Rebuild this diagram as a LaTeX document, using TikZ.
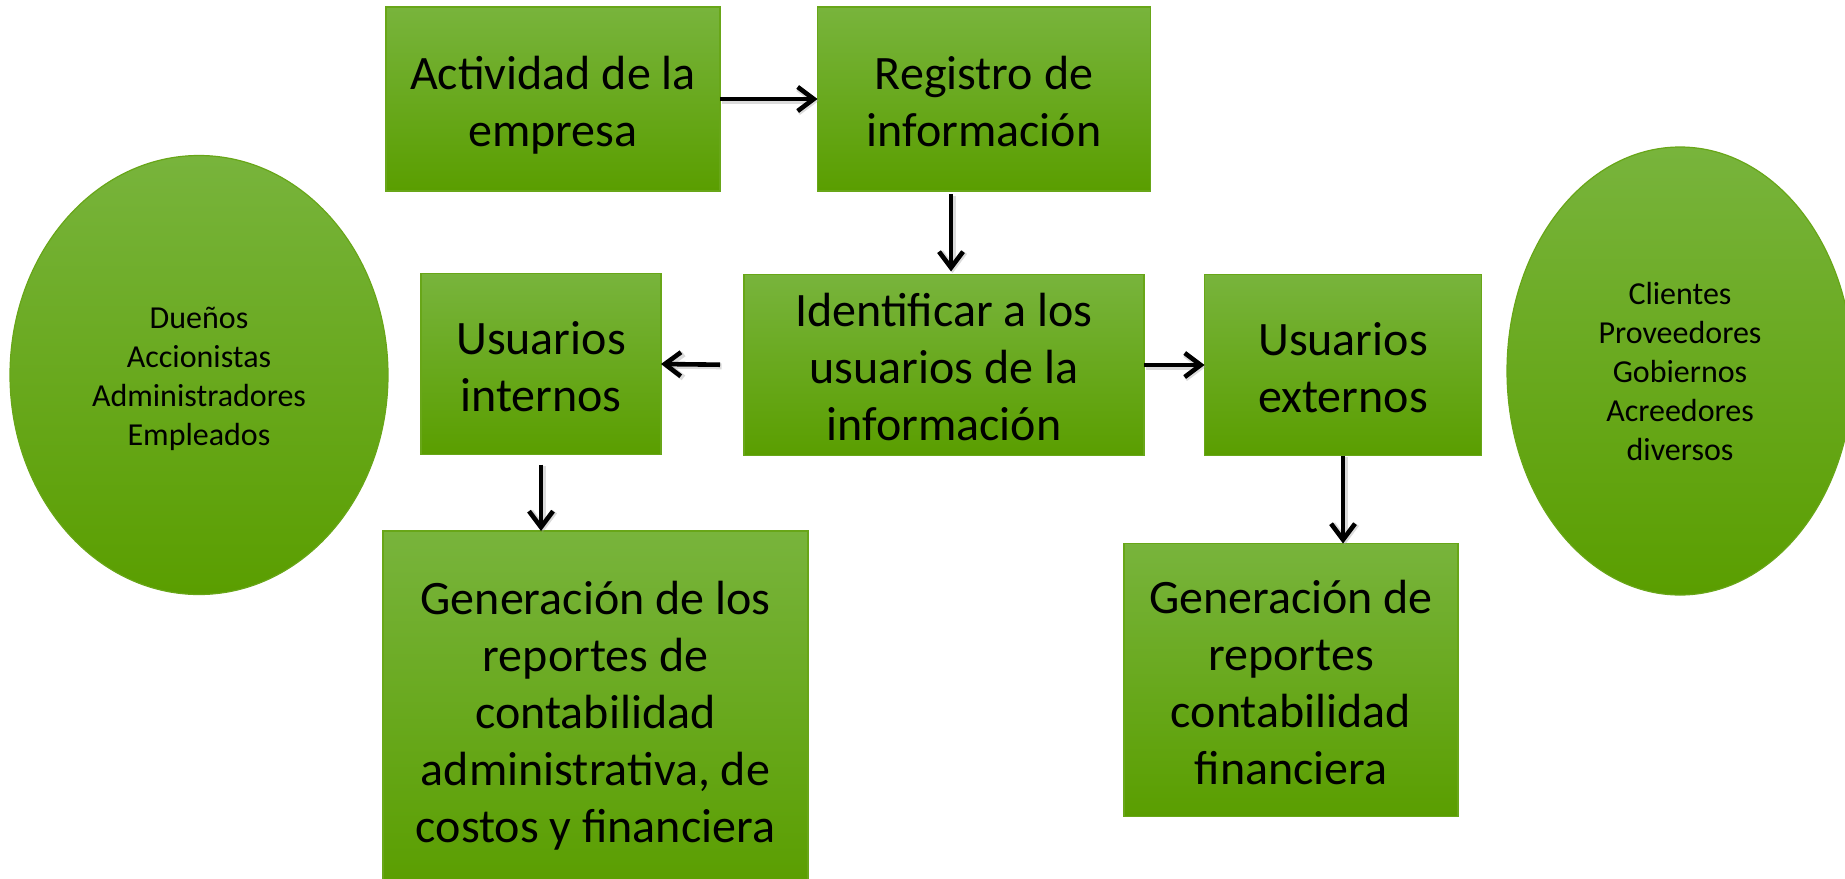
\documentclass[tikz,border=0pt]{standalone}
\usepackage{fontspec}
\setmainfont{Carlito}
\usetikzlibrary{shapes.geometric,arrows.meta,calc}
\definecolor{gtop}{RGB}{120,180,60}
\definecolor{gbot}{RGB}{90,158,0}
\definecolor{gline}{RGB}{104,166,24}
\newcommand{\boxstrut}{\rule[-5pt]{0pt}{28.5pt}}
\newcommand{\ovalstrut}{\rule[-3.8pt]{0pt}{19.5pt}}
\begin{document}
\begin{tikzpicture}[x=0.5pt,y=-0.5pt,
 box/.style={rectangle, draw=gline, line width=0.6pt, top color=gtop, bottom color=gbot, inner sep=0pt, outer sep=0pt, align=center, text=black, font=\fontsize{24}{28.5}\selectfont},
 oval/.style={ellipse, draw=gline, line width=0.6pt, top color=gtop, bottom color=gbot, inner sep=0pt, outer sep=0pt, align=center, text=black, font=\fontsize{16}{19.5}\selectfont},
 arr/.style={-{Straight Barb[length=8pt,width=12pt]}, line width=2.3pt, black,
   preaction={draw=black!40, line width=3pt, opacity=0.35, transform canvas={shift={(0.8pt,-0.8pt)}}}}]
\useasboundingbox (0,0) rectangle (1845,878);
\clip (0,0) rectangle (1845,878);
\node[box, minimum width=167pt, minimum height=92pt] (b1) at (553,99) {\boxstrut Actividad de la\\\boxstrut empresa};
\node[box, minimum width=166.5pt, minimum height=92pt] (b2) at (984,99) {\boxstrut Registro de\\\boxstrut información};
\node[box, minimum width=200pt, minimum height=90.5pt] (b3) at (944,365) {\boxstrut Identificar a los\\\boxstrut usuarios de la\\\boxstrut información};
\node[box, minimum width=120pt, minimum height=90.5pt] (b4) at (541,364) {\boxstrut Usuarios\\\boxstrut internos};
\node[box, minimum width=138.5pt, minimum height=90.5pt] (b5) at (1343,365) {\boxstrut Usuarios\\\boxstrut externos};
\node[box, minimum width=212.5pt, minimum height=179pt] (b6) at (595.5,710) {\boxstrut Generación de los\\\boxstrut reportes de\\\boxstrut contabilidad\\\boxstrut administrativa, de\\\boxstrut costos y financiera};
\node[box, minimum width=167pt, minimum height=136.5pt] (b7) at (1291,680) {\boxstrut Generación de\\\boxstrut reportes\\\boxstrut contabilidad\\\boxstrut financiera};
\node[oval, minimum width=189pt, minimum height=219.5pt] (e1) at (199,375) {\ovalstrut Dueños\\\ovalstrut Accionistas\\\ovalstrut Administradores\\\ovalstrut Empleados};
\node[oval, minimum width=173pt, minimum height=224pt] (e2) at (1680,371) {\ovalstrut Clientes\\\ovalstrut Proveedores\\\ovalstrut Gobiernos\\\ovalstrut Acreedores\\\ovalstrut diversos};
\draw[arr] (b1) -- (b2);
\draw[arr, shorten <=1.5pt, shorten >=1.5pt] (b2.south -| 951,0) -- (b3.north -| 951,0);
\draw[arr, shorten <=12pt] (b3.west) -- (b4.east);
\draw[arr] (b3.east) -- (b5.west);
\draw[arr, shorten <=5pt] (b4.south) -- (b4.south |- b6.north);
\draw[arr] (b5.south) -- (b5.south |- b7.north);
\end{tikzpicture}
\end{document}
